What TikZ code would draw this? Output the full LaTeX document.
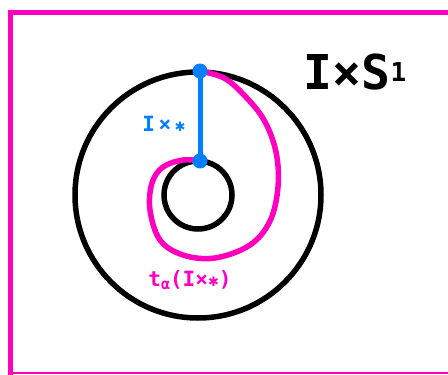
\documentclass[tikz,border=0pt]{standalone}
\usepackage{fontspec}
\setmainfont{DejaVu Sans Mono}
\newfontfamily\starfont{DejaVu Sans}
\newcommand{\pt}{{\starfont\fontsize{13}{13}\selectfont ✱}}
\definecolor{hotpink}{RGB}{255,0,191}
\definecolor{skyblue}{RGB}{0,128,255}
\begin{document}
\begin{tikzpicture}[x=1pt,y=-1pt]

        \tikzset{dot/.style={circle, fill=skyblue, inner sep=0pt, minimum size=15pt},
                 ring/.style={line width=5.5pt}}
        \useasboundingbox (0,0) rectangle (448,375);
        \clip (0,0) rectangle (448,375);

        % Frame
        \draw[hotpink, line width=5pt] (10.5,375) -- (10.5,12.5) -- (460,12.5);
        \draw[hotpink, line width=2pt] (10.5,373) -- (460,373);

        % Annulus
        \coordinate (O) at (198,195);
        \draw[ring] (O) circle (123);
        \draw[ring] (O) circle (34);

        % Twisted arc
        \draw[hotpink, line width=5.5pt, line cap=round] plot[smooth, tension=0.6] coordinates
          {(200,71) (224,78) (244,95) (264,120) (276,152) (278,187) (270,221) (250,245)
           (215,258) (183,255) (160,240) (150,210) (152,183) (163,167) (183,160) (200,161)};

        % Arc I x *
        \coordinate (top) at (200,71);
        \coordinate (bot) at (200,161);
        \draw[skyblue, line width=5pt] (top) -- (bot);
        \foreach \p in {top, bot} {
          \node[dot] at (\p) {};
        }

        \node[skyblue, font=\bfseries\fontsize{21}{21}\selectfont] (arclabel) at (164,124) {I\,×\,\pt};
        \node[hotpink, font=\bfseries\fontsize{21}{21}\selectfont] (twistlabel) at (190,280)
          {t\raisebox{-3pt}{\fontsize{15}{15}\selectfont α}(I×\pt)};
        \node[font=\bfseries\fontsize{48}{48}\selectfont] (title) at (355,72) {I×S\raisebox{8pt}{\fontsize{26}{26}\selectfont 1}};

\end{tikzpicture}
\end{document}
